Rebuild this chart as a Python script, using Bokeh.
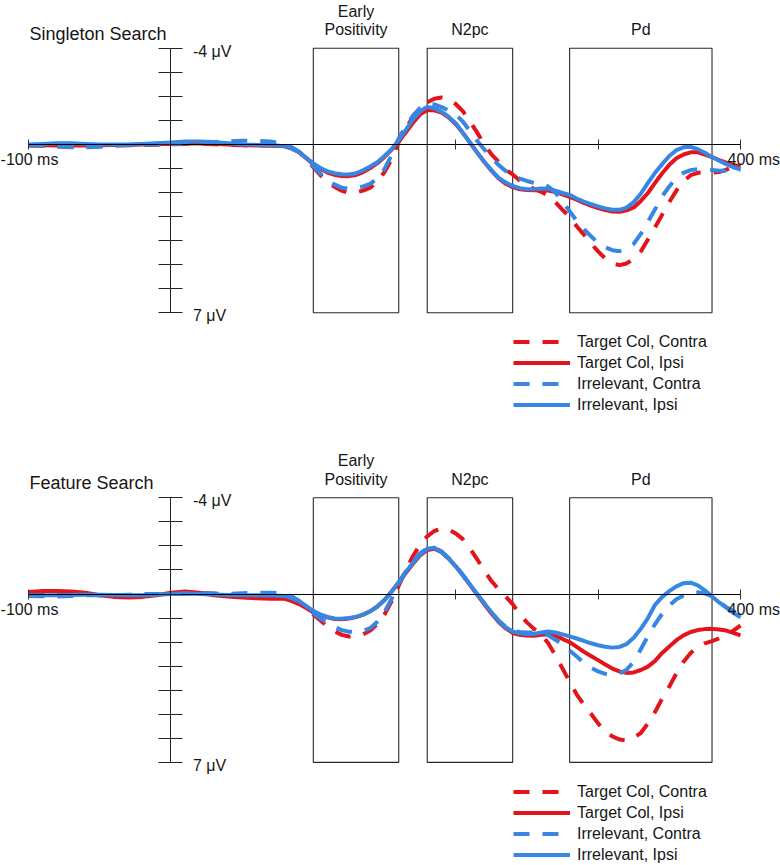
from bokeh.plotting import figure
from bokeh.models import Range1d, FixedTicker, Legend, LegendItem
from bokeh.layouts import column
from bokeh.embed import file_html
from bokeh.resources import INLINE
from bokeh.core.properties import value

# ---------------- data ----------------
times = list(range(-100, 80, 10)) + list(range(80, 405, 5))   # ms

# Singleton Search
single_target_contra = [0.05, 0.06, 0.08, 0.1, 0.1, 0.08, 0.05, 0.04, 0.03, 0.01, 0.0, -0.02, -0.03, -0.01, 0.02, 0.04, 0.05, 0.05] + [
    0.05, 0.15, 0.32, 0.6, 0.95, 1.28, 1.55, 1.77, 1.93, 2.02, 2.0, 1.92, 1.8, 1.55, 1.15, 0.62, -0.1, -0.65, -1.15, -1.5,
    -1.75, -1.9, -1.95, -1.88, -1.68, -1.38, -0.95, -0.5, 0.0, 0.4, 0.72, 1.05, 1.25, 1.5, 1.7, 1.85, 1.97, 2.12, 2.4, 2.72,
    3.02, 3.4, 3.75, 4.12, 4.45, 4.74, 4.95, 5.02, 4.95, 4.75, 4.45, 3.95, 3.45, 2.92, 2.4, 1.92, 1.53, 1.28, 1.18, 1.16,
    1.18, 1.15, 1.05, 0.92, 0.9]
single_target_ipsi = [0.03, 0.04, 0.05, 0.05, 0.05, 0.04, 0.03, 0.02, 0.0, -0.02, -0.02, -0.04, -0.05, -0.03, 0.0, 0.03, 0.05, 0.05] + [
    0.08, 0.18, 0.32, 0.57, 0.82, 1.02, 1.17, 1.27, 1.31, 1.32, 1.27, 1.15, 0.98, 0.78, 0.52, 0.22, -0.12, -0.5, -0.9, -1.25,
    -1.42, -1.42, -1.32, -1.12, -0.85, -0.48, -0.08, 0.33, 0.72, 1.08, 1.4, 1.63, 1.78, 1.87, 1.9, 1.91, 1.91, 1.92, 1.98, 2.08,
    2.18, 2.3, 2.43, 2.55, 2.65, 2.73, 2.79, 2.8, 2.74, 2.62, 2.35, 2.02, 1.6, 1.2, 0.85, 0.58, 0.42, 0.33, 0.33, 0.42,
    0.53, 0.65, 0.76, 0.85, 0.92]
single_irrel_contra = [0.05, 0.05, 0.1, 0.12, 0.12, 0.1, 0.05, 0.02, 0.0, 0.0, 0.0, -0.05, -0.08, -0.1, -0.12, -0.15, -0.15, -0.12] + [
    -0.02, 0.12, 0.3, 0.6, 0.9, 1.22, 1.48, 1.67, 1.8, 1.84, 1.82, 1.75, 1.64, 1.4, 1.02, 0.45, -0.25, -0.75, -1.2, -1.52,
    -1.69, -1.66, -1.55, -1.42, -1.25, -0.95, -0.55, -0.15, 0.2, 0.55, 0.85, 1.1, 1.3, 1.42, 1.52, 1.6, 1.62, 1.75, 2.0, 2.38,
    2.78, 3.18, 3.52, 3.82, 4.1, 4.28, 4.4, 4.44, 4.35, 4.14, 3.72, 3.22, 2.7, 2.15, 1.75, 1.38, 1.18, 1.07, 1.03, 1.03,
    1.06, 1.1, 1.1, 1.06, 1.04]
single_irrel_ipsi = [0.0, -0.02, -0.05, -0.05, -0.02, 0.0, 0.0, 0.0, -0.02, -0.05, -0.08, -0.12, -0.12, -0.1, -0.05, 0.0, 0.02, 0.03] + [
    0.08, 0.18, 0.32, 0.56, 0.79, 0.98, 1.12, 1.2, 1.24, 1.25, 1.2, 1.08, 0.92, 0.74, 0.48, 0.2, -0.18, -0.6, -1.04, -1.38,
    -1.56, -1.5, -1.36, -1.15, -0.88, -0.48, -0.08, 0.33, 0.72, 1.07, 1.38, 1.58, 1.73, 1.82, 1.86, 1.86, 1.83, 1.84, 1.92, 2.02,
    2.1, 2.25, 2.38, 2.48, 2.58, 2.66, 2.72, 2.72, 2.63, 2.4, 2.05, 1.6, 1.18, 0.82, 0.48, 0.24, 0.12, 0.1, 0.2, 0.35,
    0.52, 0.68, 0.82, 0.95, 1.04]

# Feature Search
feature_target_contra = [-0.05, -0.07, -0.08, -0.05, 0.0, 0.05, 0.08, 0.07, 0.05, 0.02, 0.0, -0.03, -0.05, -0.02, 0.03, 0.06, 0.08, 0.1] + [
    0.1, 0.2, 0.35, 0.6, 0.85, 1.1, 1.35, 1.55, 1.7, 1.77, 1.76, 1.68, 1.52, 1.25, 0.85, 0.3, -0.35, -1.0, -1.58, -2.05,
    -2.4, -2.62, -2.72, -2.68, -2.52, -2.28, -1.9, -1.45, -0.98, -0.55, -0.2, 0.1, 0.42, 0.85, 1.18, 1.45, 1.68, 2.05, 2.55, 3.1,
    3.65, 4.18, 4.6, 4.98, 5.38, 5.7, 5.92, 6.05, 6.09, 5.98, 5.78, 5.38, 4.9, 4.35, 3.85, 3.3, 2.82, 2.45, 2.2, 2.05,
    1.96, 1.85, 1.72, 1.52, 1.31]
feature_target_ipsi = [-0.08, -0.12, -0.12, -0.1, -0.05, 0.05, 0.12, 0.15, 0.12, 0.05, -0.05, -0.1, -0.05, 0.05, 0.1, 0.15, 0.18, 0.2] + [
    0.2, 0.3, 0.42, 0.58, 0.76, 0.88, 0.97, 1.04, 1.05, 1.02, 0.96, 0.86, 0.72, 0.52, 0.25, -0.1, -0.48, -0.88, -1.26, -1.6,
    -1.83, -1.88, -1.74, -1.48, -1.15, -0.78, -0.38, 0.02, 0.42, 0.8, 1.15, 1.42, 1.62, 1.7, 1.73, 1.74, 1.7, 1.67, 1.75, 1.87,
    2.0, 2.2, 2.4, 2.58, 2.75, 2.93, 3.1, 3.22, 3.28, 3.26, 3.16, 3.02, 2.78, 2.45, 2.18, 1.92, 1.72, 1.58, 1.5, 1.46,
    1.45, 1.48, 1.52, 1.62, 1.72]
feature_irrel_contra = [0.08, 0.09, 0.1, 0.08, 0.05, 0.05, 0.05, 0.03, 0.0, 0.0, 0.0, -0.02, -0.03, -0.02, 0.0, -0.03, -0.05, -0.05] + [
    -0.02, 0.1, 0.28, 0.55, 0.8, 1.02, 1.2, 1.38, 1.5, 1.57, 1.58, 1.52, 1.42, 1.15, 0.75, 0.2, -0.45, -0.95, -1.35, -1.7,
    -1.9, -1.93, -1.78, -1.5, -1.18, -0.8, -0.4, 0.0, 0.38, 0.75, 1.1, 1.36, 1.52, 1.58, 1.6, 1.6, 1.6, 1.72, 1.9, 2.1,
    2.35, 2.6, 2.86, 3.06, 3.22, 3.32, 3.36, 3.3, 3.15, 2.82, 2.3, 1.75, 1.25, 0.82, 0.48, 0.22, 0.06, -0.05, -0.07, -0.02,
    0.1, 0.33, 0.55, 0.72, 0.83]
feature_irrel_ipsi = [0.05, 0.05, 0.05, 0.04, 0.03, 0.03, 0.04, 0.05, 0.05, 0.03, 0.0, -0.02, 0.0, 0.02, 0.04, 0.05, 0.05, 0.06] + [
    0.08, 0.18, 0.3, 0.5, 0.7, 0.85, 0.95, 1.02, 1.03, 1.0, 0.95, 0.86, 0.72, 0.52, 0.25, -0.1, -0.5, -0.92, -1.3, -1.65,
    -1.88, -1.92, -1.75, -1.48, -1.15, -0.78, -0.4, 0.0, 0.38, 0.75, 1.1, 1.38, 1.56, 1.63, 1.66, 1.66, 1.6, 1.56, 1.6, 1.68,
    1.76, 1.85, 1.95, 2.05, 2.13, 2.19, 2.23, 2.2, 2.08, 1.82, 1.45, 1.0, 0.45, 0.12, -0.12, -0.32, -0.45, -0.47, -0.36, -0.15,
    0.1, 0.35, 0.57, 0.78, 0.97]

series_labels = ["Target Col, Contra", "Target Col, Ipsi", "Irrelevant, Contra", "Irrelevant, Ipsi"]
panel_titles = ["Singleton Search", "Feature Search"]

window_starts = [100, 180, 280]     # ms
window_ends = [160, 240, 380]       # ms
window_label_top = ["Early", "", ""]
window_label_bottom = ["Positivity", "N2pc", "Pd"]

x_ticks = [-100, 0, 100, 200, 300, 400]
x_tick_labels = {-100: "-100 ms", 400: "400 ms"}
y_ticks = [-4, -3, -2, -1, 0, 1, 2, 3, 4, 5, 6, 7]
y_tick_labels = {-4: "-4 \u03bcV", 7: "7 \u03bcV"}

for s in (single_target_contra, single_target_ipsi, single_irrel_contra, single_irrel_ipsi,
          feature_target_contra, feature_target_ipsi, feature_irrel_contra, feature_irrel_ipsi):
    assert len(s) == len(times), len(s)

# ---------------- style ----------------
RED = "#e4141c"
BLUE = "#3786e4"
DASH = "16 13"
styles = [(RED, DASH), (RED, "solid"), (BLUE, DASH), (BLUE, "solid")]
FONT = value("Liberation Sans")
TXT = "#161616"

W = 780
PX_PER_MS = 1.424
LEFT_PAD = 28
PX_PER_UV = 24.05

x_lo = x_ticks[0] - LEFT_PAD / PX_PER_MS
x_hi = x_lo + W / PX_PER_MS


def make_panel(title, data, height, top_pad, legend_bottom):
    y_top = y_ticks[0] - top_pad / PX_PER_UV
    y_bot = y_top + height / PX_PER_UV
    p = figure(width=W, height=height, x_range=Range1d(x_lo, x_hi), y_range=Range1d(y_bot, y_top),
               output_backend="svg", toolbar_location=None, min_border=0,
               x_axis_location="below", y_axis_location="left")
    p.outline_line_color = None
    p.xgrid.visible = False
    p.ygrid.visible = False
    p.background_fill_color = "white"
    p.border_fill_color = "white"

    # analysis windows
    p.quad(left=window_starts, right=window_ends, top=[y_ticks[0]] * 3, bottom=[y_ticks[-1]] * 3,
           fill_color=None, line_color="#2a2a2a", line_width=1.1)
    centers = [(a + b) / 2 for a, b in zip(window_starts, window_ends)]
    p.text(x=centers, y=[y_ticks[0]] * 3, text=window_label_bottom, text_font=FONT, text_font_size="16px",
           text_color=TXT, text_align="center", text_baseline="middle", y_offset=-18.7)
    p.text(x=centers, y=[y_ticks[0]] * 3, text=window_label_top, text_font=FONT, text_font_size="16px",
           text_color=TXT, text_align="center", text_baseline="middle", y_offset=-37.2)

    # waveforms
    renderers = []
    for vals, (col, dash) in zip(data, styles):
        r = p.line(times, vals, line_color=col, line_width=4, line_dash=dash, line_join="round")
        renderers.append(r)

    # axes crossing at zero
    xa = p.xaxis[0]
    xa.fixed_location = 0
    xa.ticker = FixedTicker(ticks=x_ticks)
    xa.bounds = (x_ticks[0], x_ticks[-1])
    xa.major_tick_in = 5
    xa.major_tick_out = 5
    xa.minor_tick_line_color = None
    xa.major_label_text_color = None
    xa.axis_line_color = "black"
    xa.major_tick_line_color = "#333333"

    ya = p.yaxis[0]
    ya.fixed_location = 0
    ya.ticker = FixedTicker(ticks=y_ticks)
    ya.bounds = (y_ticks[0], y_ticks[-1])
    ya.major_tick_in = 12
    ya.major_tick_out = 12
    ya.minor_tick_line_color = None
    ya.major_label_text_color = None
    ya.axis_line_color = "#222222"
    ya.major_tick_line_color = "#222222"

    # tick labels
    yk = list(y_tick_labels.keys())
    p.text(x=[0] * len(yk), y=yk, text=[y_tick_labels[k] for k in yk], text_font=FONT, text_font_size="16px",
           text_color=TXT, text_align="left", text_baseline="middle", x_offset=22, y_offset=3)
    p.text(x=[x_ticks[0]], y=[0], text=[x_tick_labels[-100]], text_font=FONT, text_font_size="16px",
           text_color=TXT, text_align="center", text_baseline="middle", x_offset=1, y_offset=15.4)
    p.text(x=[x_ticks[-1]], y=[0], text=[x_tick_labels[400]], text_font=FONT, text_font_size="16px",
           text_color=TXT, text_align="left", text_baseline="middle", x_offset=-13, y_offset=15.4)

    # panel title
    p.text(x=[x_ticks[0]], y=[y_ticks[0]], text=[title], text_font=FONT, text_font_size="18px",
           text_color=TXT, text_align="left", text_baseline="middle", x_offset=1, y_offset=-14.5)

    legend = Legend(items=[LegendItem(label=l, renderers=[r]) for l, r in zip(series_labels, renderers)],
                    location=(513, legend_bottom), glyph_width=57, glyph_height=19, label_height=19,
                    spacing=2, padding=0, margin=0, label_standoff=7,
                    label_text_font="Liberation Sans", label_text_font_size="16px", label_text_color=TXT,
                    border_line_color=None, background_fill_alpha=0)
    p.add_layout(legend)
    return p


p1 = make_panel(panel_titles[0], [single_target_contra, single_target_ipsi, single_irrel_contra, single_irrel_ipsi],
                450, 47.7, 36)
p2 = make_panel(panel_titles[1], [feature_target_contra, feature_target_ipsi, feature_irrel_contra, feature_irrel_ipsi],
                415, 47.3, 1)

layout = column(p1, p2, spacing=0)
open("out.html", "w").write(file_html(layout, INLINE))
